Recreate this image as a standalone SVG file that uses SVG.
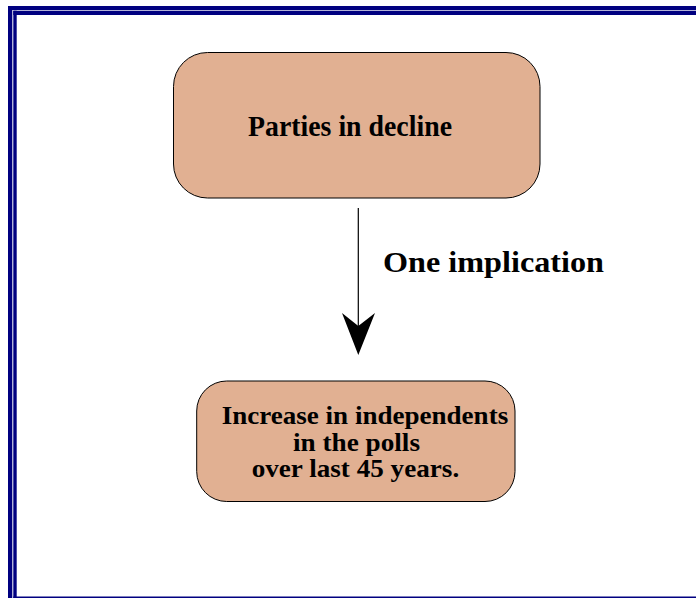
<svg xmlns="http://www.w3.org/2000/svg" width="696" height="598" viewBox="0 0 696 598">
<style>
.frame{fill:#000080}
.box{fill:#E1B092;stroke:#000;stroke-width:1}
.t{font-family:"Liberation Serif","Times New Roman",serif;font-weight:bold;fill:#000}
</style>
<rect width="696" height="598" fill="#fff"/>
<g id="border">
<rect class="frame" x="8" y="6" width="688" height="4"/>
<rect class="frame" x="8" y="6" width="4.3" height="592"/>
<rect class="frame" x="13.3" y="10.7" width="682.7" height="4.3"/>
<rect class="frame" x="13.3" y="10.7" width="3.4" height="587.3"/>
<rect class="frame" x="13.3" y="596.5" width="682.7" height="1.5"/>
</g>
<g id="node-parties">
<rect class="box" x="173.5" y="52.5" width="366.5" height="145.5" rx="34" ry="34"/>
<text class="t" x="248" y="136" font-size="29" textLength="204" lengthAdjust="spacingAndGlyphs">Parties in decline</text>
</g>
<g id="connectors">
<line x1="358.3" y1="208" x2="358.3" y2="326" stroke="#000" stroke-width="1.2"/>
<polygon points="342,313 358.3,355 375,313 358.3,326" fill="#000"/>
<text class="t" x="383" y="271.5" font-size="28.5" textLength="221" lengthAdjust="spacingAndGlyphs">One implication</text>
</g>
<g id="node-independents">
<rect class="box" x="196.7" y="381" width="318.3" height="120.5" rx="30" ry="30"/>
<text class="t" x="221.7" y="423.5" font-size="25" textLength="286.5" lengthAdjust="spacingAndGlyphs">Increase in independents</text>
<text class="t" x="293" y="451" font-size="25" textLength="127" lengthAdjust="spacingAndGlyphs">in the polls</text>
<text class="t" x="251.7" y="477" font-size="25" textLength="207.5" lengthAdjust="spacingAndGlyphs">over last 45 years.</text>
</g>
</svg>
